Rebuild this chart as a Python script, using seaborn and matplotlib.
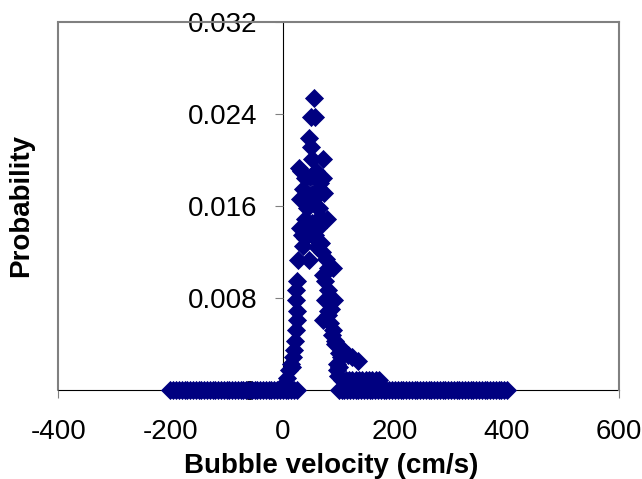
import numpy as np
import pandas as pd
import matplotlib
matplotlib.use("Agg")
import matplotlib.pyplot as plt
from matplotlib.lines import Line2D
import seaborn as sns

# ---------------- data ----------------
zero_velocity = [-200, -195, -190, -185, -180, -175, -170, -165, -160, -155,
                 -150, -145, -140, -135, -130, -125, -120, -115, -110, -105,
                 -100, -95, -90, -85, -80, -75, -70, -65, -60, -55,
                 -50, -45, -40, -35, -30, -25, -20, -15, -10, -5, 0,
                 5, 10, 15, 20, 25,
                 100, 105, 110, 115, 120, 125, 130, 135, 140, 145,
                 150, 155, 160, 165, 170, 175, 180, 185, 190, 195,
                 200, 205, 210, 215, 220, 225, 230, 235, 240, 245,
                 250, 255, 260, 265, 270, 275, 280, 285, 290, 295,
                 300, 305, 310, 315, 320, 325, 330, 335, 340, 345,
                 350, 355, 360, 365, 370, 375, 380, 385, 390, 395, 400]

peak_velocity = [55, 50, 58, 46, 50, 52, 71, 29, 33, 55, 40, 48, 60, 71, 37, 64, 74,
                 31, 56, 52, 66, 44, 64, 60, 40, 79, 66, 52, 31, 46, 63, 58, 40, 57,
                 66, 68, 62, 70, 36, 34, 28, 46, 78, 81, 90, 72, 25, 76, 24, 81, 24,
                 76, 92, 26, 81, 86, 26, 72, 80, 24, 90, 85, 22, 93, 88, 98, 20, 94,
                 105, 100, 19, 104, 117, 124, 135, 97, 14, 101, 17, 11, 97, 8, 99, 4, 2,
                 106, 112, 118, 124, 130, 136, 142, 148, 154, 160, 166, 172]
peak_probability = [0.0254, 0.0237, 0.0237, 0.0219, 0.0211, 0.0201, 0.0201, 0.0193, 0.0190, 0.0188,
                    0.0184, 0.0185, 0.0190, 0.0184, 0.0175, 0.0175, 0.0171,
                    0.0166, 0.0166, 0.0170, 0.0180, 0.0158, 0.0158, 0.0160, 0.0149, 0.0149, 0.0150,
                    0.0145, 0.0141, 0.0141, 0.0141, 0.0135, 0.0132, 0.0132,
                    0.0128, 0.0128, 0.0124, 0.0120, 0.0125, 0.0135, 0.0113, 0.0113, 0.0114, 0.0106,
                    0.0106, 0.0100, 0.0095, 0.0095, 0.0087, 0.0087, 0.0078,
                    0.0078, 0.0078, 0.0069, 0.0069, 0.0070, 0.0061, 0.0061, 0.0065, 0.0052, 0.0052,
                    0.0058, 0.0043, 0.0043, 0.0048, 0.0038, 0.0035, 0.0040,
                    0.0036, 0.0032, 0.0029, 0.0029, 0.0030, 0.0029, 0.0025, 0.0023, 0.0023, 0.0020,
                    0.0020, 0.0017, 0.0017, 0.0010, 0.0012, 0.0006, 0.0003,
                    0.0009, 0.0009, 0.0009, 0.0009, 0.0009, 0.0009, 0.0009, 0.0009, 0.0009, 0.0009,
                    0.0009, 0.0009]

x_ticks = [-400, -200, 0, 200, 400, 600]
x_tick_labels = ["-400", "-200", "0", "200", "400", "600"]
y_ticks = [0, 0.008, 0.016, 0.024, 0.032]
y_tick_labels = ["0", "0.008", "0.016", "0.024", "0.032"]

df = pd.DataFrame({
    "velocity": list(zero_velocity) + list(peak_velocity),
    "probability": [0.0] * len(zero_velocity) + list(peak_probability),
})

# ---------------- style ----------------
sns.set_style("white")
plt.rcParams["font.family"] = ["Liberation Sans", "DejaVu Sans"]
plt.rcParams["text.color"] = "black"
plt.rcParams["axes.labelcolor"] = "black"

fig = plt.figure(figsize=(6.42, 4.79), dpi=100)
L, R, T, B = 58.3 / 642, 619.3 / 642, 1 - 21.7 / 479, 1 - 390 / 479
ax = fig.add_axes([L, B, R - L, T - B])

sns.scatterplot(data=df, x="velocity", y="probability", marker="D", s=95,
                color="#000080", linewidth=0, ax=ax, clip_on=False, legend=False)

ax.set_xlim(-400, 600)
ax.set_ylim(0, 0.032)
ax.set_xticks(x_ticks)
ax.set_xticklabels(x_tick_labels)
ax.set_yticks(y_ticks)
ax.set_yticklabels(y_tick_labels)

gray = "#808080"
ax.spines["left"].set_position(("data", 0))
ax.spines["left"].set_color("black")
ax.spines["left"].set_linewidth(0.8)
ax.spines["bottom"].set_color("black")
ax.spines["bottom"].set_linewidth(0.8)
for s in ["left", "bottom"]:
    ax.spines[s].set_zorder(0.5)
for s in ["top", "right"]:
    ax.spines[s].set_color(gray)
    ax.spines[s].set_linewidth(1.5)
    ax.spines[s].set_visible(True)
ax.add_line(Line2D([0, 0], [0, 1], transform=ax.transAxes, color=gray,
                   lw=1.5, clip_on=False, zorder=0.5))

ax.tick_params(axis="both", direction="out", length=6, width=0.8, color=gray,
               labelsize=20, labelcolor="black")
ax.tick_params(axis="y", pad=12, left=True)
ax.tick_params(axis="x", pad=15, bottom=True)

ax.set_xlabel("Bubble velocity (cm/s)", fontsize=20, fontweight="bold", color="black")
ax.set_ylabel("Probability", fontsize=20, fontweight="bold", color="black")
ax.xaxis.set_label_coords(0.486, -0.17)
ax.yaxis.set_label_coords(-0.0433, 0.5)

fig.savefig("out.png", dpi=100)
